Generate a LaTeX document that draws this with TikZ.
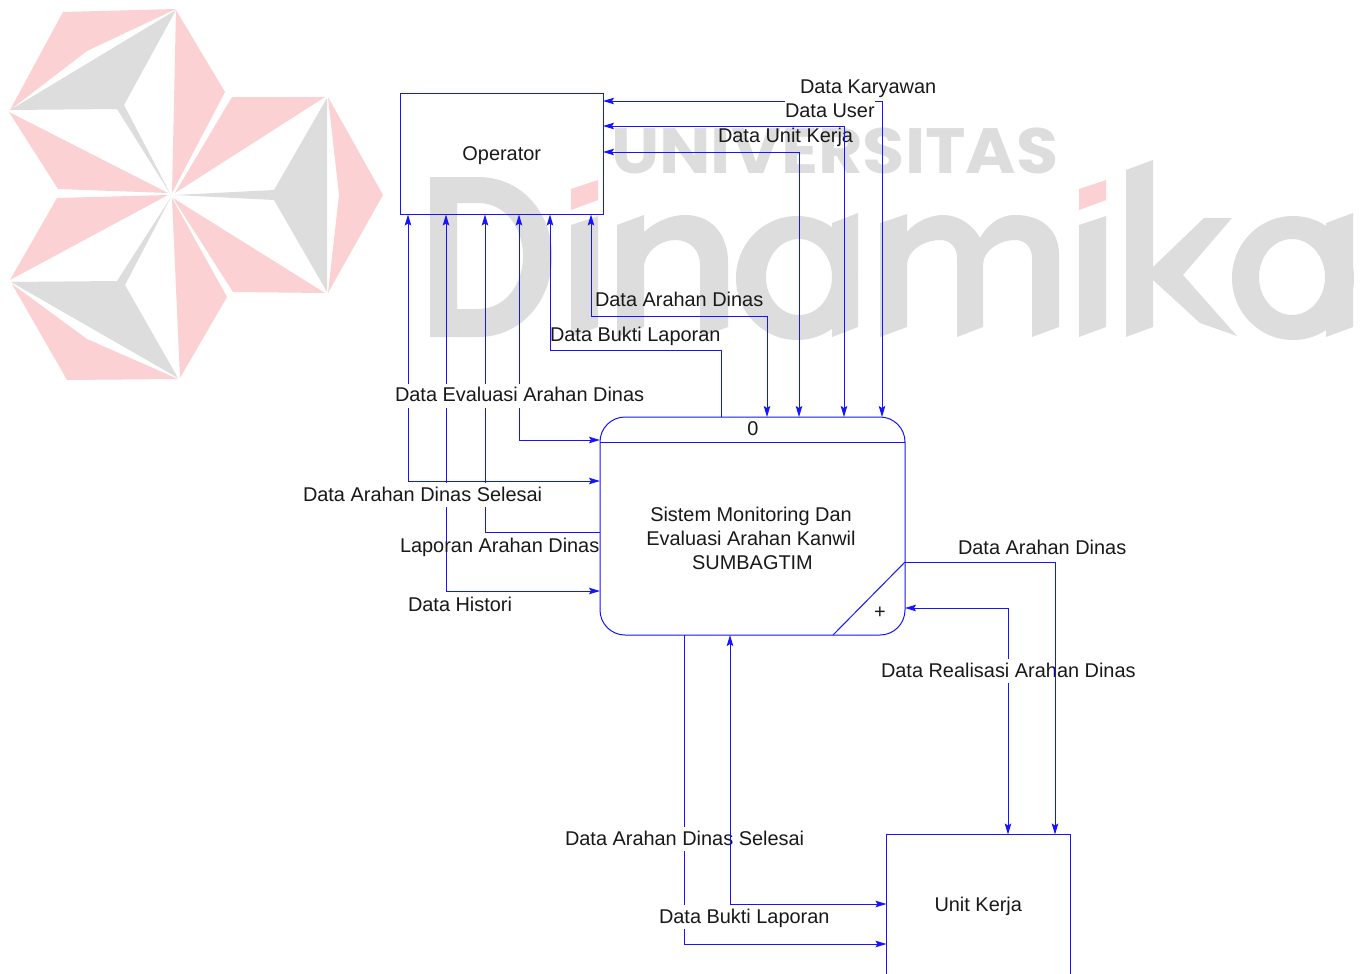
\documentclass[tikz,border=0pt]{standalone}
\usepackage{fontspec}
\setmainfont{Liberation Sans}
\newfontfamily\wmfont{Poppins}
\usetikzlibrary{arrows.meta}
\definecolor{wmpink}{RGB}{251,209,212}
\definecolor{wmgray}{RGB}{221,221,221}
\definecolor{flowblue}{RGB}{20,20,255}
\definecolor{labelink}{RGB}{25,25,25}
\tikzset{
  flowtip/.tip={Stealth[length=11pt,width=6.5pt,inset=2pt]},
  flow/.style={draw=flowblue,line width=1pt,line join=miter},
  entity/.style={draw=flowblue,line width=1pt,rectangle,inner sep=0pt,outer sep=0pt,font=\fontsize{19.92}{24}\selectfont,text=labelink},
  procbox/.style={entity,rounded corners=25pt,align=center},
  flowlabel/.style={anchor=west,inner sep=0pt,outer sep=0pt,text height=15pt,text depth=3pt,font=\fontsize{19.92}{24}\selectfont,text=labelink},
  maskedlabel/.style={flowlabel,minimum height=24pt,fill=white},
  wmp/.style={fill=wmpink},
  wmg/.style={fill=wmgray}
}
\begin{document}
\begin{tikzpicture}[x=1pt,y=-1pt]
\useasboundingbox (0,0) rectangle (1365,974);
\fill[white] (0,0) rectangle (1365,974);
% --- watermark: star
\fill[wmp] (63,12)--(176,9)--(87,51)--(10,110)--cycle;
\fill[wmg] (10,110)--(176,10)--(124,105)--(171,195)--(117,109)--cycle;
\fill[wmp] (176,10)--(225,92)--(172,193)--cycle;
\fill[wmp] (9,112)--(58,189)--(168,193)--cycle;
\fill[wmp] (57,198)--(168,195)--(10,280)--cycle;
\fill[wmg] (11,282)--(117,281)--(171,197)--(125,285)--(178,378)--cycle;
\fill[wmp] (12,284)--(87,339)--(178,379)--(67,380)--cycle;
\fill[wmp] (172,198)--(227,297)--(180,378)--cycle;
\fill[wmp] (232,97)--(325,97)--(175,193)--cycle;
\fill[wmg] (327,98)--(274,190)--(175,195)--(274,200)--(327,292)--cycle;
\fill[wmp] (328,97)--(383,195)--(328,293)--(339,195)--cycle;
\fill[wmp] (173,198)--(325,293)--(233,292)--cycle;
% --- watermark: wordmark
\node[anchor=base west,inner sep=0pt,text=wmgray,font=\fontsize{64}{64}\wmfont\bfseries,xscale=1.07] (univ) at (611,173) {UNIVERSITAS};
\fill[wmg,even odd rule] (430,177)--(478,177) .. controls (522,177) and (552,213) .. (552,256) .. controls (552,300) and (522,337) .. (478,337)--(430,337)--cycle
  (457,203)--(457,309)--(478,309) .. controls (505,309) and (523,285) .. (523,256) .. controls (523,227) and (505,203) .. (478,203)--cycle;
\fill[wmp] (571,189)--(598,180)--(598,200)--(571,210)--cycle;
\fill[wmg] (571,225)--(598,216)--(598,327)--(571,337)--cycle;
\fill[wmg] (617,225)--(644,215)--(644,232) .. controls (655,222) and (670,215) .. (685,215) .. controls (712,215) and (728,235) .. (728,262)--(728,327)--(700,337)--(700,265) .. controls (700,250) and (690,240) .. (675,240) .. controls (660,240) and (644,252) .. (644,268)--(644,327)--(617,337)--cycle;
\fill[wmg,even odd rule] (797,278) ellipse [x radius=61,y radius=62] (799,277) ellipse [x radius=33,y radius=38];
\fill[wmg] (832,223)--(858,213)--(858,327)--(832,337)--cycle;
\fill[wmg] (880,223)--(907,214)--(907,232) .. controls (915,222) and (930,215) .. (943,215) .. controls (958,215) and (972,224) .. (980,238) .. controls (988,224) and (1000,215) .. (1015,215) .. controls (1042,215) and (1059,230) .. (1059,255)--(1059,327)--(1032,337)--(1032,258) .. controls (1032,247) and (1025,240) .. (1015,240) .. controls (1000,240) and (983,250) .. (983,265)--(983,327)--(957,337)--(957,258) .. controls (957,247) and (950,240) .. (940,240) .. controls (925,240) and (907,250) .. (907,265)--(907,327)--(880,337)--cycle;
\fill[wmp] (1079,189)--(1106,180)--(1106,200)--(1079,210)--cycle;
\fill[wmg] (1079,225)--(1106,216)--(1106,327)--(1079,337)--cycle;
\fill[wmg] (1126,170)--(1153,160)--(1153,267)--(1204,218)--(1232,218)--(1183,275)--(1237,336)--(1200,323)--(1153,280)--(1153,327)--(1126,337)--cycle;
\fill[wmg,even odd rule] (1293,278) ellipse [x radius=61,y radius=62] (1292,277) ellipse [x radius=33,y radius=38];
\fill[wmg] (1326,223)--(1353,213)--(1353,327)--(1326,337)--cycle;
% --- boxes
\node[entity,minimum width=202.5pt,minimum height=121pt,text height=15pt,text depth=3pt] (op) at (501.75,154) {Operator};
\node[procbox,minimum width=305pt,minimum height=218pt] (proc) at (752.5,526) {};
\node[entity,minimum width=183.5pt,minimum height=141pt,text height=15pt,text depth=3pt] (unit) at (978.25,905) {Unit Kerja};
\node[font=\fontsize{19.92}{24}\selectfont,text=labelink,inner sep=0pt,align=center] (proctext) at (751,538) {Sistem Monitoring Dan\\Evaluasi Arahan Kanwil\\\hspace*{3pt}SUMBAGTIM};
\node[font=\fontsize{19.92}{24}\selectfont,text=labelink,inner sep=0pt] (procid) at (753,428.5) {0};
\node[font=\fontsize{19.92}{24}\selectfont,text=labelink,inner sep=0pt] (procplus) at (880,613) {+};
\draw[flow] (proc.west |- 0,442) -- (proc.east |- 0,442);
\draw[flow] (proc.east |- 0,562) -- (833,0 |- proc.south);
% --- connectors interrupted by a label
\draw[flow,flowtip-flowtip] (882,0 |- proc.north) -- (882,101) -- (op.east |- 0,101);
\draw[flow,flowtip-flowtip] (519,0 |- op.south) -- (519,440) -- (proc.west |- 0,440);
\draw[flow,flowtip-flowtip] (408,0 |- op.south) -- (408,481) -- (proc.west |- 0,481);
\draw[flow,flowtip-] (485,0 |- op.south) -- (485,532) -- (proc.west |- 0,532);
\draw[flow,flowtip-flowtip] (446,0 |- op.south) -- (446,591) -- (proc.west |- 0,591);
\draw[flow,flowtip-flowtip] (proc.east |- 0,608) -- (1008,608) -- (1008,0 |- unit.north);
\draw[flow,-flowtip] (684,0 |- proc.south) -- (684,944) -- (unit.west |- 0,944);
% --- labels
\node[maskedlabel] (lbuser) at (785,111) {Data User};
\node[flowlabel] (lbkary) at (800,87) {Data Karyawan};
\node[flowlabel] (lbunit) at (718,136) {Data Unit Kerja};
\node[flowlabel] (lbarahtop) at (595,300) {Data Arahan Dinas};
\node[flowlabel] (lbbuktitop) at (550,335) {Data Bukti Laporan};
\node[maskedlabel] (lbeval) at (395,395.5) {Data Evaluasi Arahan Dinas};
\node[maskedlabel] (lbsel) at (303,495) {Data Arahan Dinas Selesai};
\node[flowlabel] (lblap) at (400,546) {Laporan Arahan Dinas};
\node[flowlabel] (lbhist) at (408,605) {Data Histori};
\node[flowlabel] (lbarahright) at (958,548) {Data Arahan Dinas};
\node[maskedlabel] (lbreal) at (881,671) {Data Realisasi Arahan Dinas};
\node[maskedlabel] (lbselbot) at (565,839) {Data Arahan Dinas Selesai};
\node[maskedlabel] (lbbuktibot) at (659,917) {Data Bukti Laporan};
% --- connectors running over the labels
\draw[flow,flowtip-flowtip] (844,0 |- proc.north) -- (844,126) -- (op.east |- 0,126);
\draw[flow,flowtip-flowtip] (799,0 |- proc.north) -- (799,152) -- (op.east |- 0,152);
\draw[flow,flowtip-flowtip] (591,0 |- op.south) -- (591,316) -- (767,316) -- (767,0 |- proc.north);
\draw[flow,flowtip-] (550,0 |- op.south) -- (550,350) -- (721,350) -- (721,0 |- proc.north);
\draw[flow,-flowtip] (proc.east |- 0,562) -- (1055,562) -- (1055,0 |- unit.north);
\draw[flow,flowtip-flowtip] (730,0 |- proc.south) -- (730,904) -- (unit.west |- 0,904);
\end{tikzpicture}
\end{document}
